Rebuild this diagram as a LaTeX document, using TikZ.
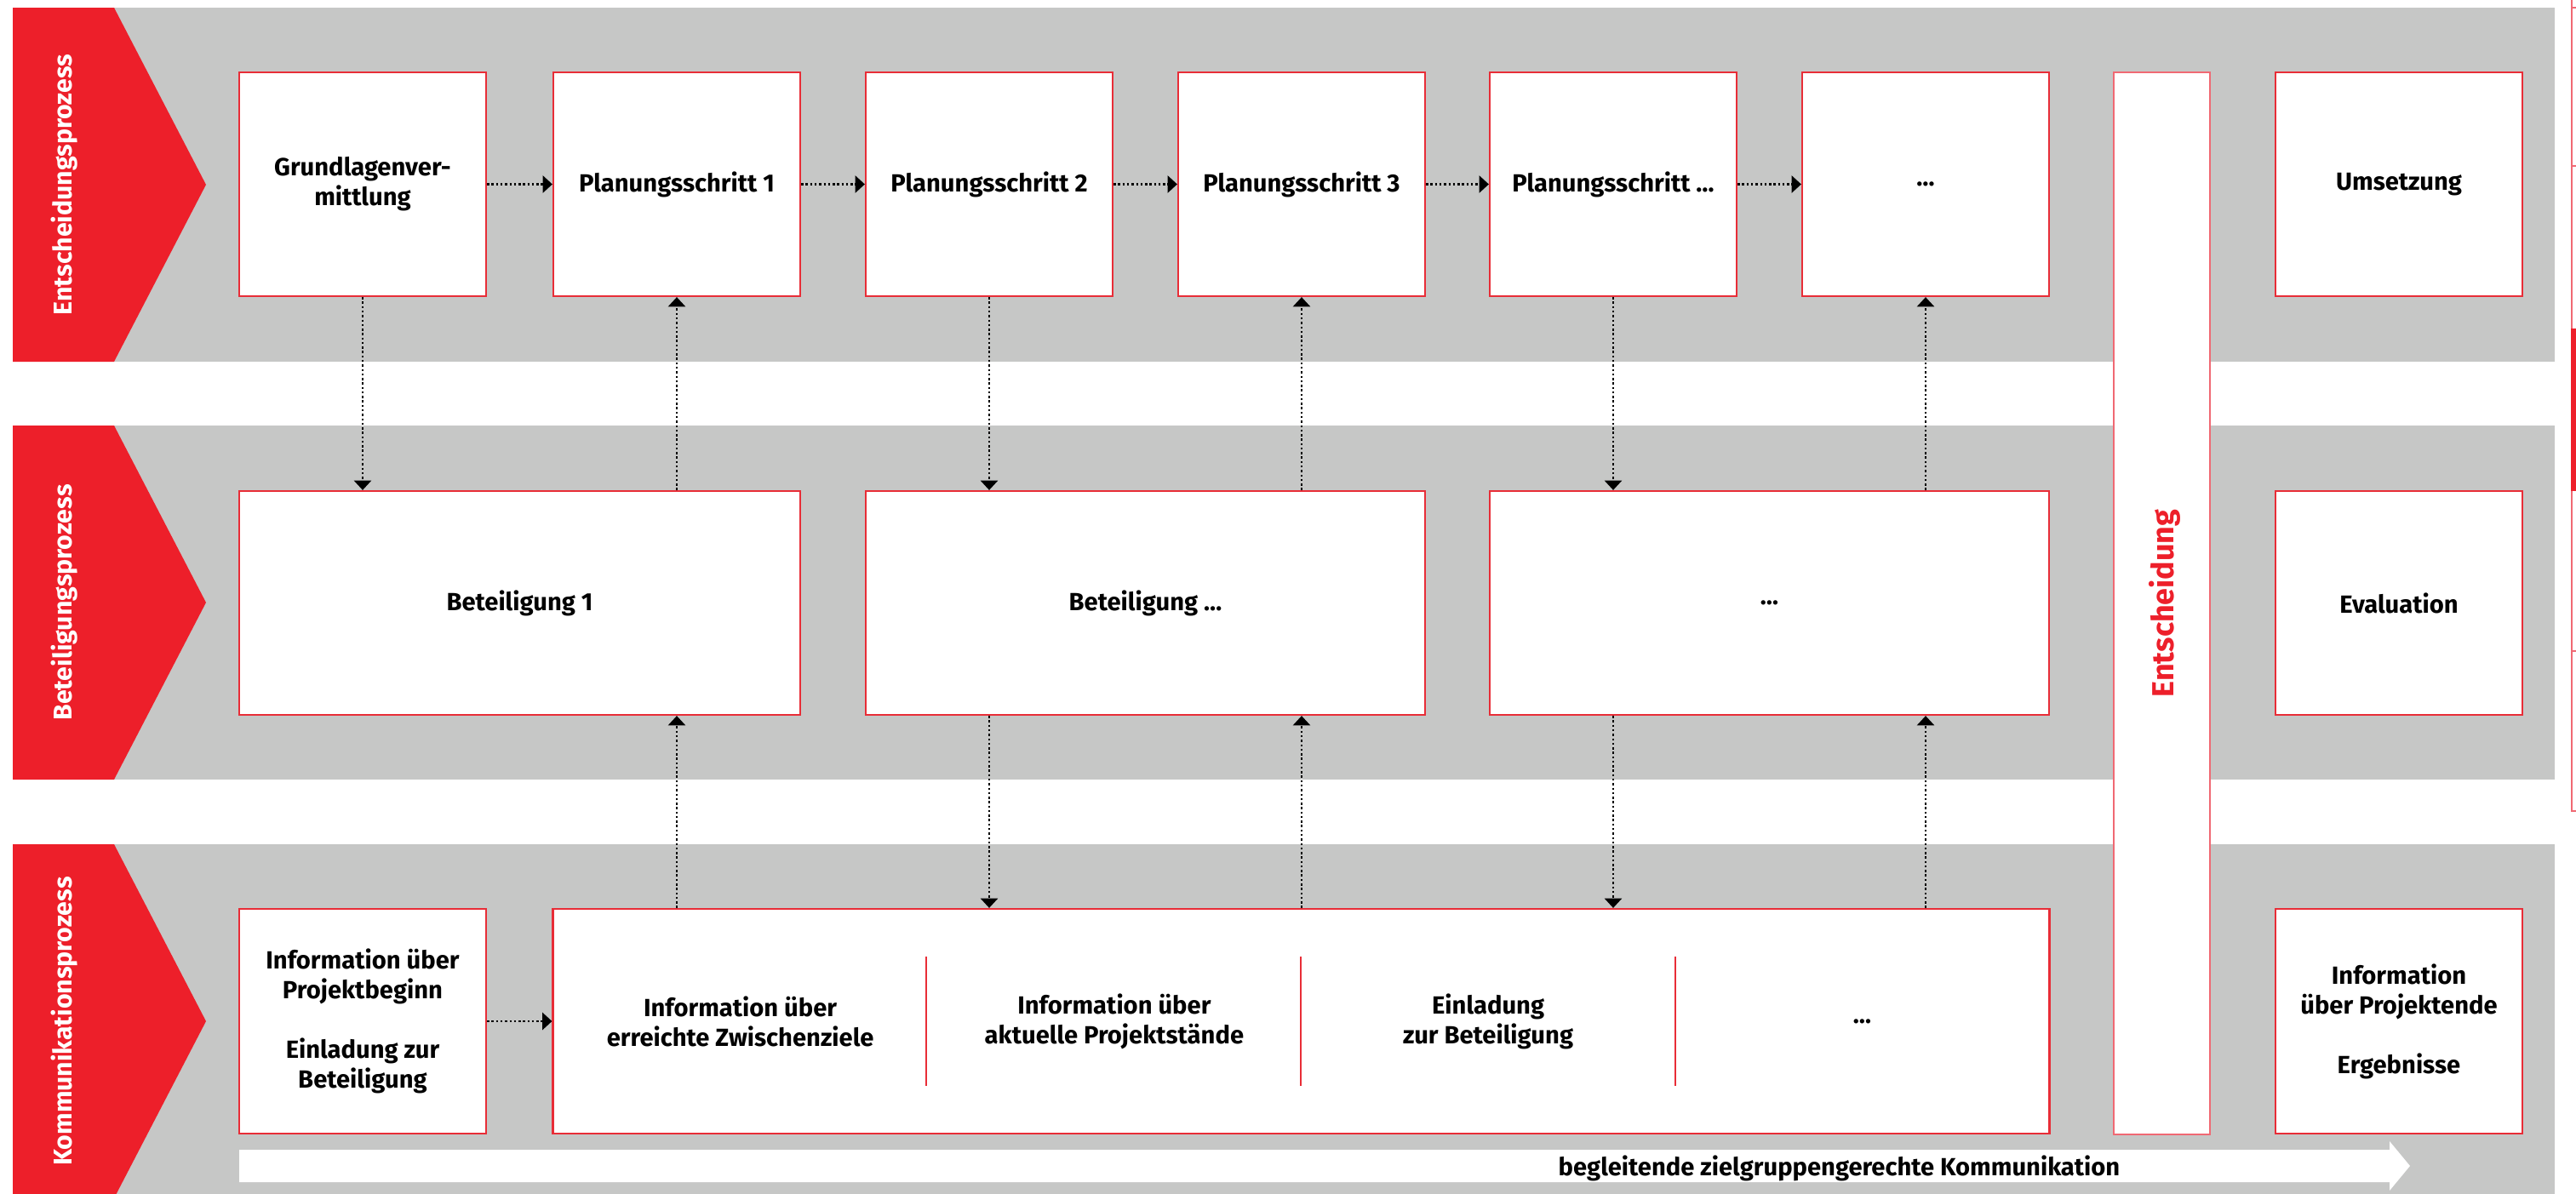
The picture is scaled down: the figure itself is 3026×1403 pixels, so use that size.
\documentclass[tikz,border=0pt]{standalone}
\usepackage{fontspec}
\setmainfont{Fira Sans}
\usetikzlibrary{arrows.meta}
\definecolor{bandgray}{RGB}{198,199,198}
\definecolor{chevred}{RGB}{237,31,42}
\definecolor{boxred}{RGB}{232,45,55}
\definecolor{lightred}{RGB}{240,105,115}
\tikzset{
  box/.style={draw=boxred, line width=0.6pt, fill=white, inner sep=0pt,
    font=\fontsize{8.3}{9.96}\selectfont\bfseries, align=center},
  ebox/.style={draw=lightred, line width=0.6pt, fill=white, inner sep=0pt},
  lbl/.style={font=\fontsize{8.3}{9.96}\selectfont\bfseries, align=center, inner sep=0pt},
  side/.style={font=\fontsize{8.6}{10}\selectfont\bfseries, text=white, rotate=90, inner sep=0pt, anchor=base},
  entlbl/.style={font=\fontsize{10.2}{12}\selectfont\bfseries, text=chevred, rotate=90, inner sep=0pt, anchor=base},
  flow/.style={line width=0.7pt, dash pattern=on 0.7pt off 0.8pt,
    -{Triangle[length=3.2pt,width=5.7pt]}},
  divider/.style={draw=boxred, line width=0.35pt},
}
\begin{document}
\begin{tikzpicture}[x=0.01cm,y=-0.01cm]
\useasboundingbox (0,0) rectangle (3026,1403);
\clip (0,0) rectangle (3026,1403);
\fill[white] (0,0) rectangle (3026,1403);
% bands
\fill[bandgray] (15,9) rectangle (3001,425);
\fill[bandgray] (15,500) rectangle (3001,916);
\fill[bandgray] (15,992) rectangle (3001,1408);
% chevrons
\fill[chevred] (15,9) -- (134,9) -- (242,217) -- (134,425) -- (15,425) -- cycle;
\fill[chevred] (15,500) -- (134,500) -- (242,708) -- (134,916) -- (15,916) -- cycle;
\fill[chevred] (15,992) -- (134,992) -- (242,1200) -- (134,1408) -- (15,1408) -- cycle;
\node[side] (s1) at (84,217) {Entscheidungsprozess};
\node[side] (s2) at (84,708) {Beteiligungsprozess};
\node[side] (s3) at (84,1200) {Kommunikationsprozess};
% white arrow
\fill[white] (281,1351) -- (2807,1351) -- (2807,1341) -- (2831,1370) -- (2807,1399) -- (2807,1389) -- (281,1389) -- cycle;
\node[lbl, anchor=base east] (komm) at (2491,1381) {begleitende zielgruppengerechte Kommunikation};
% top row
\node[box, minimum width=2.9cm, minimum height=2.63cm] (g)  at (426,216.5)  {Grundlagenver-\\mittlung};
\node[box, minimum width=2.9cm, minimum height=2.63cm] (p1) at (795,216.5)  {Planungsschritt 1};
\node[box, minimum width=2.9cm, minimum height=2.63cm] (p2) at (1162,216.5) {Planungsschritt 2};
\node[box, minimum width=2.9cm, minimum height=2.63cm] (p3) at (1529,216.5) {Planungsschritt 3};
\node[box, minimum width=2.9cm, minimum height=2.63cm] (p4) at (1895,216.5) {Planungsschritt …};
\node[box, minimum width=2.9cm, minimum height=2.63cm] (p5) at (2262,216.5) {…};
\node[box, minimum width=2.9cm, minimum height=2.63cm] (um) at (2818,216.5) {Umsetzung};
% middle row
\node[box, minimum width=6.59cm, minimum height=2.63cm] (b1) at (610.5,708.5)  {Beteiligung 1};
\node[box, minimum width=6.57cm, minimum height=2.63cm] (b2) at (1345.5,708.5) {Beteiligung …};
\node[box, minimum width=6.57cm, minimum height=2.63cm] (b3) at (2078.5,708.5) {…};
\node[box, minimum width=2.9cm, minimum height=2.63cm] (ev) at (2818,708.5) {Evaluation};
% bottom row
\node[box, minimum width=2.9cm, minimum height=2.64cm] (k1) at (426,1200) {Information über\\Projektbeginn\\[9.96pt]Einladung zur\\Beteiligung};
\node[box, minimum width=17.57cm, minimum height=2.64cm] (big) at (1528.5,1200) {};
\node[box, minimum width=2.9cm, minimum height=2.64cm] (ke) at (2818,1200) {Information\\über Projektende\\[9.96pt]Ergebnisse};
\node[lbl] (q1) at (869.6,1200)  {Information über\\erreichte Zwischenziele};
\node[lbl] (q2) at (1308.9,1200) {Information über\\aktuelle Projektstände};
\node[lbl] (q3) at (1748.1,1200) {Einladung\\zur Beteiligung};
\node[lbl] (q4) at (2187.4,1200) {…};
\draw[divider] (1088,1124) -- (1088,1276);
\draw[divider] (1528,1124) -- (1528,1276);
\draw[divider] (1968,1124) -- (1968,1276);
% Entscheidung
\node[ebox, minimum width=1.13cm, minimum height=12.48cm] (ent) at (2539.5,709) {};
\node[entlbl] (entl) at (2553,709) {Entscheidung};
% horizontal flows
\draw[flow] (g.east) -- (p1.west);
\draw[flow] (p1.east) -- (p2.west);
\draw[flow] (p2.east) -- (p3.west);
\draw[flow] (p3.east) -- (p4.west);
\draw[flow] (p4.east) -- (p5.west);
\draw[flow] (k1.east) -- (big.west);
% top <-> middle
\draw[flow] (g.south) -- (g.south |- b1.north);
\draw[flow] (p1.south |- b1.north) -- (p1.south);
\draw[flow] (p2.south) -- (p2.south |- b2.north);
\draw[flow] (p3.south |- b2.north) -- (p3.south);
\draw[flow] (p4.south) -- (p4.south |- b3.north);
\draw[flow] (p5.south |- b3.north) -- (p5.south);
% middle <-> bottom
\draw[flow] (p1.south |- big.north) -- (p1.south |- b1.south);
\draw[flow] (p2.south |- b2.south) -- (p2.south |- big.north);
\draw[flow] (p3.south |- big.north) -- (p3.south |- b2.south);
\draw[flow] (p4.south |- b3.south) -- (p4.south |- big.north);
\draw[flow] (p5.south |- big.north) -- (p5.south |- b3.south);
% right edge sliver
\draw[lightred, line width=0.6pt] (3021,0) -- (3021,953) -- (3030,953);
\draw[lightred, line width=0.6pt] (3021,9) -- (3030,9);
\draw[lightred, line width=0.6pt] (3021,195) -- (3030,195);
\draw[lightred, line width=0.6pt] (3021,765) -- (3030,765);
\fill[chevred] (3020,386) rectangle (3030,577);
\end{tikzpicture}
\end{document}
